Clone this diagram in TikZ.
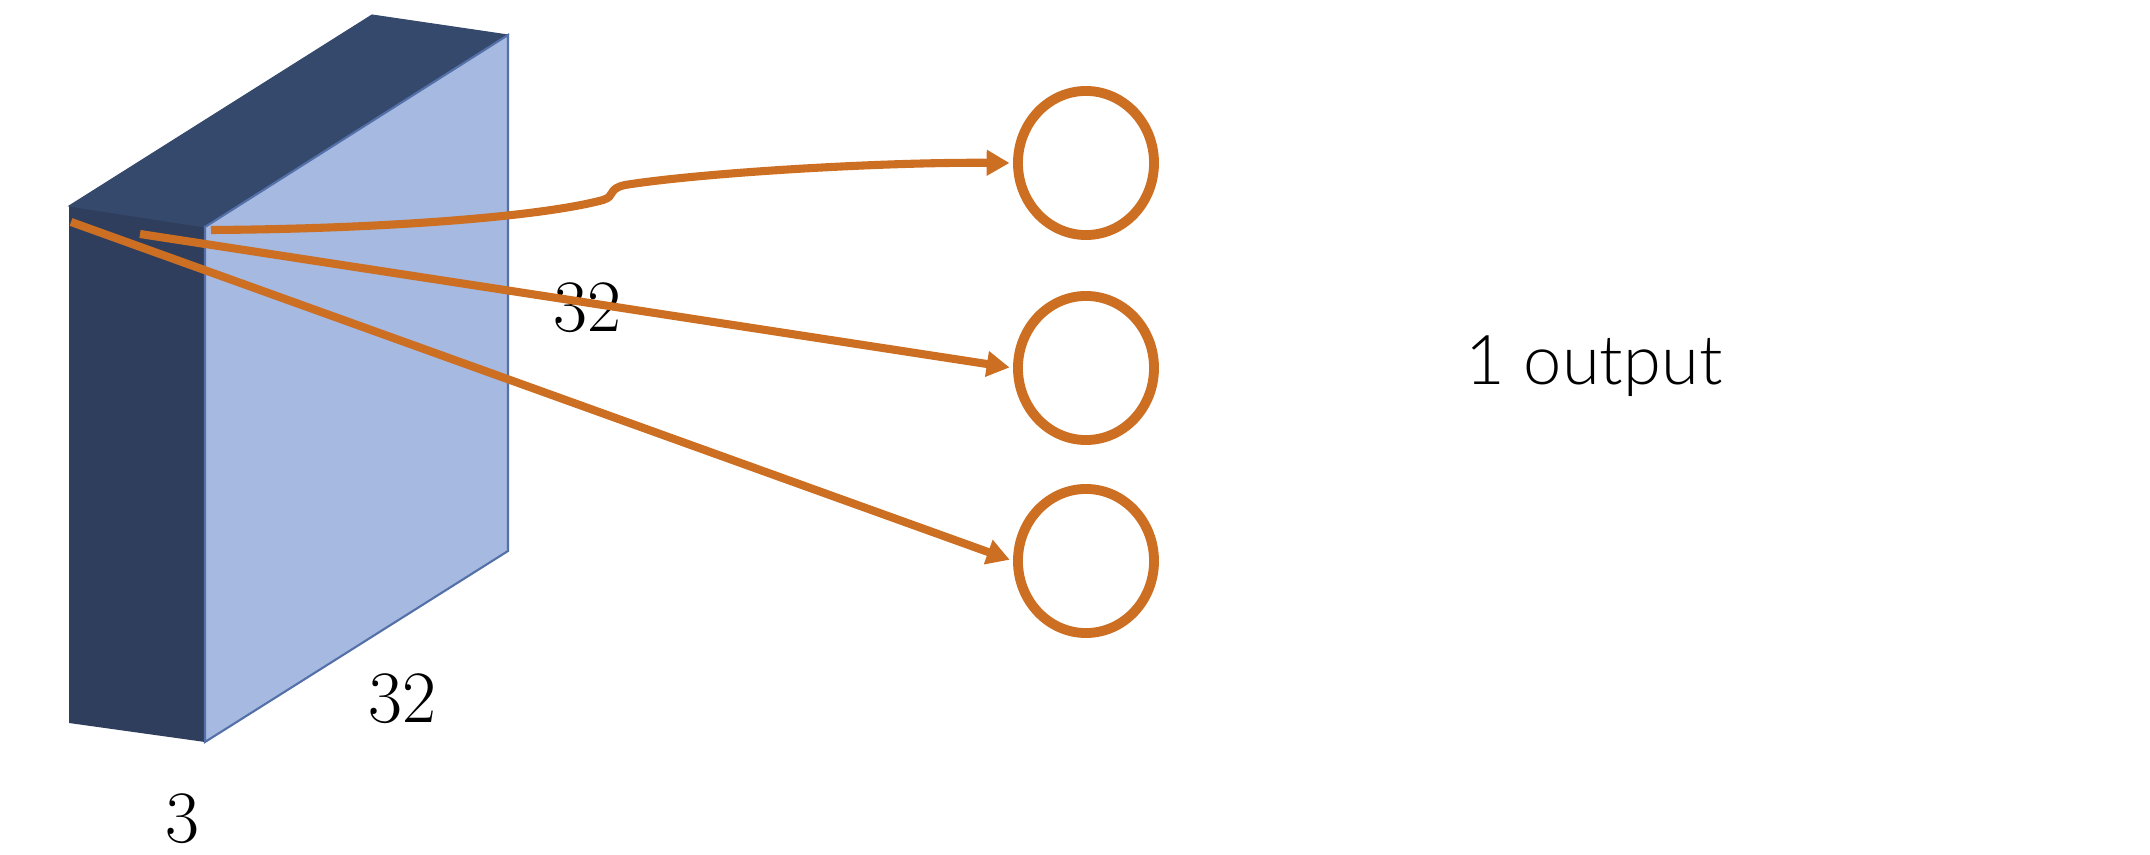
\documentclass[tikz,border=0pt]{standalone}
\usepackage{fontspec}
\usepackage{xcolor}
\usetikzlibrary{arrows.meta,shapes.geometric}
\newfontfamily\outfont{Lato Light}
\definecolor{boxfront}{HTML}{2F3E5C}
\definecolor{boxtop}{HTML}{34496C}
\definecolor{boxside}{HTML}{A6B9E0}
\definecolor{boxedge}{HTML}{5370A8}
\definecolor{wire}{HTML}{CC6F22}

\begin{document}
\begin{tikzpicture}[x=0.01cm,y=-0.01cm,
  neuron/.style={draw=wire,line width=2.8pt,ellipse,minimum width=1.36cm,minimum height=1.44cm,inner sep=0pt},
  wirearrow/.style={draw=wire,line width=2.3pt,-{Triangle[length=6.5pt,width=7pt]},shorten >=1pt},
  dimlabel/.style={font=\fontsize{21}{25}\selectfont,inner sep=0pt,anchor=base}]
\useasboundingbox (0,0) rectangle (2150,855);

% input volume
\coordinate (ftl) at (69,206);
\coordinate (ftr) at (205,227);
\coordinate (fbl) at (69,723);
\coordinate (fbr) at (205,742);
\coordinate (btl) at (372,15);
\coordinate (btr) at (508,35);
\coordinate (bbr) at (508,551);
\fill[boxfront] (ftl) -- (ftr) -- (fbr) -- (fbl) -- cycle;
\filldraw[fill=boxtop,draw=boxtop,line width=0.3pt] (ftl) -- (btl) -- (btr) -- (ftr) -- cycle;
\filldraw[fill=boxside,draw=boxedge,line width=0.6pt] (ftr) -- (btr) -- (bbr) -- (fbr) -- cycle;

\node[dimlabel] (hgt) at (587,332) {32};
\node[dimlabel] (wdt) at (402,723) {32};
\node[dimlabel] (dep) at (182,843) {3};
\node[inner sep=0pt,anchor=base,font=\outfont\fontsize{19.5}{23}\selectfont] (outlbl) at (1594,385) {1 output};

% output units
\node[neuron] (n1) at (1086,163) {};
\node[neuron] (n2) at (1086,368) {};
\node[neuron] (n3) at (1086,561) {};

% connections
\coordinate (s1) at (211,230);
\coordinate (s2) at (140,234);
\coordinate (s3) at (71,222);
\draw[wirearrow] (s1) .. controls (380,229) and (540,217) .. (603,200)
  .. controls (616,196) and (607,189) .. (625,185)
  .. controls (700,173) and (880,162) .. (n1.west);
\draw[wirearrow] (s2) -- (n2.west);
\draw[wirearrow] (s3) -- (n3.west);
\end{tikzpicture}
\end{document}
